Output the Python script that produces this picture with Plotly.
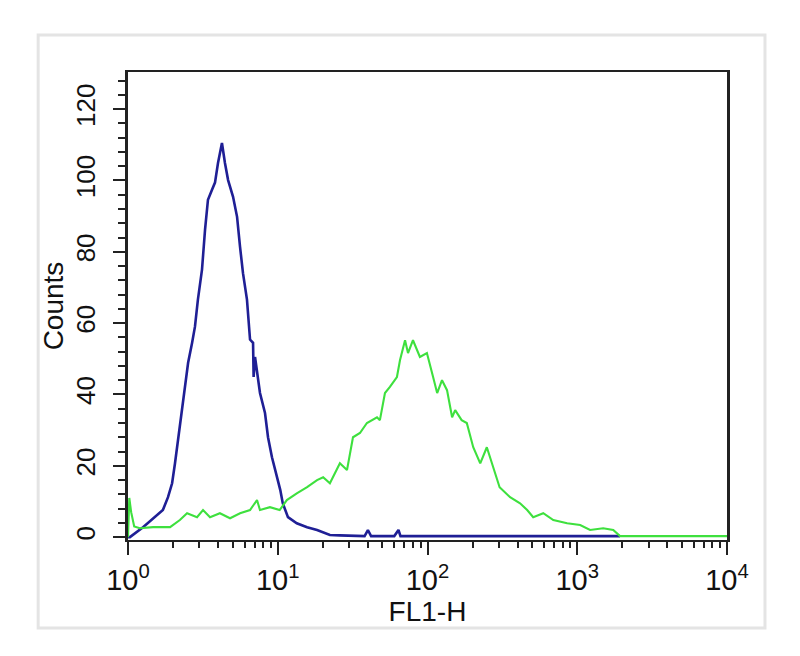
import plotly.graph_objects as go

# ---- data ----
blue_x = [1.00, 1.03, 1.26, 1.47, 1.71, 1.85, 1.97, 2.06, 2.16, 2.29,
          2.40, 2.52, 2.68, 2.80, 2.93, 3.12, 3.27, 3.42, 3.64, 3.81,
          3.99, 4.24, 4.44, 4.66, 5.03, 5.35, 5.60, 5.86, 6.23, 6.53,
          6.84, 6.90, 7.05, 7.61, 8.22, 8.61, 9.15, 9.89, 10.4, 10.8,
          11.7, 13.4, 15.7, 18.3, 22.3, 26.0, 32, 38, 40, 42,
          48, 60, 64, 66, 68, 80, 200, 1000, 1930]
blue_y = [0, 0, 2.8, 5.3, 7.6, 11.2, 15.1, 20.7, 27.2, 34.8,
          42.1, 48.9, 54.5, 59.0, 66.6, 75.0, 86.2, 94.6, 97.4, 99.4,
          104.9, 110.5, 104.9, 100.1, 95.4, 89.8, 81.4, 74.0, 66.6, 55.4,
          54.5, 44.9, 50.5, 40.4, 34.8, 28.0, 22.4, 16.8, 13.2, 9.5,
          5.6, 3.9, 2.8, 2.0, 0.6, 0.5, 0.3, 0.3, 2, 0.3,
          0.3, 0.3, 2, 0.3, 0.3, 0.3, 0.3, 0.3, 0.3]

green_x = [1.00, 1.01, 1.02, 1.05, 1.10, 1.20, 1.47, 1.91, 2.22, 2.48,
           2.89, 3.17, 3.53, 4.11, 4.80, 5.60, 6.53, 7.27, 7.61, 8.87,
           10.3, 11.5, 13.4, 15.7, 18.3, 20.1, 22.3, 26.0, 29.0, 31.8,
           35.4, 39.4, 46.0, 48.1, 52.0, 56.1, 62.5, 65.5, 70.8, 74.1,
           80.0, 89.0, 99.1, 109, 116, 125, 135, 146, 153, 169,
           183, 202, 225, 249, 274, 303, 356, 415, 463, 508,
           593, 692, 856, 1046, 1218, 1490, 1740, 1930, 10000]
green_y = [0, 10, 11, 7, 3, 2.5, 2.8, 2.8, 4.8, 6.7,
           5.6, 7.6, 5.6, 6.7, 5.3, 6.7, 7.6, 10.4, 7.6, 8.4,
           7.6, 10.4, 12.3, 14.0, 16.0, 16.8, 15.1, 20.7, 18.8, 28.0,
           29.2, 32.0, 33.6, 32.8, 40.4, 42.1, 44.9, 49.6, 55.2, 51.6,
           55.2, 50.5, 51.6, 44.9, 40.4, 44.0, 41.2, 33.6, 35.6, 32.8,
           32.0, 25.2, 20.7, 25.2, 19.6, 14.0, 11.2, 9.5, 7.6, 5.6,
           6.7, 4.8, 3.9, 3.4, 2.0, 2.5, 2.0, 0.3, 0.3]

x_tick_vals = [1, 10, 100, 1000, 10000]
x_tick_text = ["10<sup>0</sup>", "10<sup>1</sup>", "10<sup>2</sup>",
               "10<sup>3</sup>", "10<sup>4</sup>"]
x_minor_vals = [m * d for d in (1, 10, 100, 1000) for m in range(2, 10)]
y_tick_vals = [0, 20, 40, 60, 80, 100, 120]

FONT = "Liberation Sans, Arial, sans-serif"

fig = go.Figure()
fig.add_trace(go.Scatter(x=blue_x, y=blue_y, mode="lines",
                         line=dict(color="#1f1f95", width=2.6),
                         showlegend=False, hoverinfo="skip"))
fig.add_trace(go.Scatter(x=green_x, y=green_y, mode="lines",
                         line=dict(color="#3ee03e", width=2.1),
                         showlegend=False, hoverinfo="skip"))

fig.update_layout(
    width=792, height=648,
    margin=dict(l=120, r=73, t=64, b=116),
    paper_bgcolor="white", plot_bgcolor="white",
    font=dict(family=FONT, size=28, color="#111111"),
    xaxis=dict(
        type="log", range=[0, 4],
        tickmode="array", tickvals=x_tick_vals, ticktext=x_tick_text,
        ticks="outside", ticklen=13, tickwidth=2, tickcolor="#222",
        minor=dict(tickmode="array", tickvals=x_minor_vals,
                   ticks="outside", ticklen=6, tickwidth=2, tickcolor="#222"),
        showgrid=False, zeroline=False,
        showline=True, linecolor="#222", linewidth=2, mirror=True,
        tickfont=dict(size=29),
        title=dict(text="FL1-H", font=dict(size=28), standoff=0),
    ),
    yaxis=dict(
        range=[-0.8, 130.4],
        tickmode="array", tickvals=y_tick_vals,
        ticks="outside", ticklen=12, tickwidth=2, tickcolor="#222",
        minor=dict(dtick=4, tick0=0, ticks="outside", ticklen=7,
                   tickwidth=2, tickcolor="#222"),
        tickangle=-90, ticklabelstandoff=8,
        showgrid=False, zeroline=False,
        showline=True, linecolor="#222", linewidth=2.5, mirror=True,
        tickfont=dict(size=26),
        title=dict(text="Counts", font=dict(size=28), standoff=0),
    ),
    shapes=[dict(type="rect", xref="paper", yref="paper",
                 x0=-0.150, x1=1.0634, y0=-0.188, y1=1.079,
                 line=dict(color="#e4e4e4", width=3), layer="below")],
)

fig.write_html("out.html")
